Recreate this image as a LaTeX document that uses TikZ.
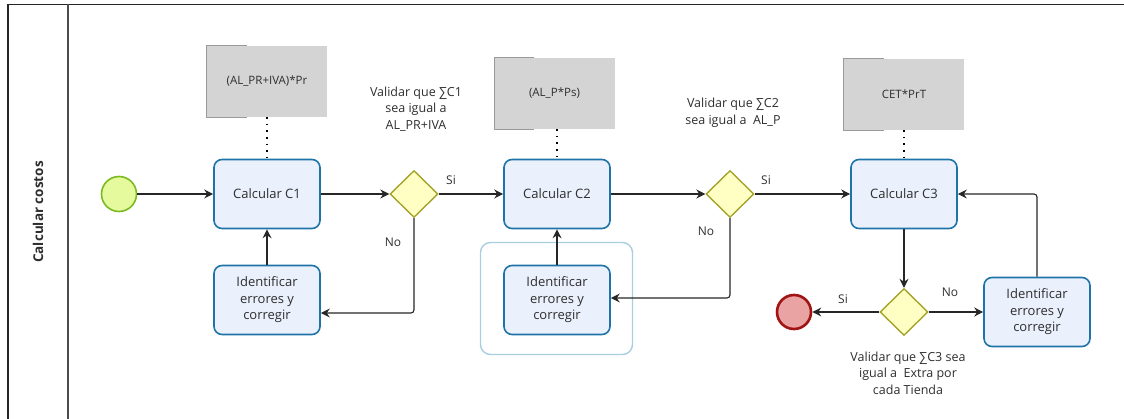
\documentclass[tikz,border=0pt]{standalone}
\usepackage{fontspec}
\setmainfont{Open Sans}
\usetikzlibrary{arrows.meta,shapes.geometric,calc}
\definecolor{taskfill}{HTML}{EAF0FC}
\definecolor{taskline}{HTML}{1E74A8}
\definecolor{gwfill}{HTML}{FFFFC4}
\definecolor{gwline}{HTML}{A3A32A}
\definecolor{startfill}{HTML}{E4FA9C}
\definecolor{startline}{HTML}{7DBA22}
\definecolor{endfill}{HTML}{EAA3A3}
\definecolor{endline}{HTML}{A01414}
\definecolor{notefill}{HTML}{D4D4D4}
\definecolor{noteline}{HTML}{9A9A9A}
\definecolor{grpline}{HTML}{A9CEDF}
\definecolor{txt}{HTML}{2E2E2E}
\tikzset{
  x=1pt,y=-1pt,
  task/.style={draw=taskline,line width=1.6pt,fill=taskfill,rounded corners=8pt,
    minimum width=106pt,minimum height=69pt,align=center,font=\fontsize{13}{16.5}\selectfont,text=txt},
  gw/.style={diamond,draw=gwline,line width=1.4pt,fill=gwfill,minimum width=48pt,minimum height=47pt,inner sep=0pt},
  startev/.style={circle,draw=startline,line width=1.6pt,fill=startfill,minimum size=35pt,inner sep=0pt},
  endev/.style={circle,draw=endline,line width=2.6pt,fill=endfill,minimum size=34pt,inner sep=0pt},
  note/.style={fill=notefill,minimum width=120pt,minimum height=71pt,font=\fontsize{11.5}{14}\selectfont,text=txt,inner sep=0pt},
  grp/.style={draw=grpline,line width=1.4pt,rounded corners=10pt,minimum width=152pt,minimum height=112pt},
  flow/.style={draw=black!85,line width=1.1pt,rounded corners=3pt,-{Stealth[length=9pt,width=9pt,inset=3pt]}},
  assoc/.style={draw=black,line width=1.6pt,dash pattern=on 1.6pt off 5pt},
  lbl/.style={font=\fontsize{12}{14}\selectfont,text=txt,inner sep=0pt},
  cond/.style={font=\fontsize{12.5}{16.5}\selectfont,text=txt,align=center,inner sep=0pt},
}
\newcommand{\notebracket}[1]{\draw[noteline,line width=1pt] ($(#1.north west)+(40,0)$) -- (#1.north west) -- (#1.south west) -- ++(40,0);}
\begin{document}
\begin{tikzpicture}
\useasboundingbox (0,0) rectangle (1124,419);
% pool frame
\draw[line width=1.4pt,black!85] (1124,4.5) -- (8,4.5) -- (8,419);
\draw[line width=1.4pt,black!70] (68,4.5) -- (68,419);
\node[rotate=90,font=\bfseries\fontsize{13.5}{16}\selectfont,text=txt] (lane) at (38,212) {Calcular costos};

% group
\node[grp] (group) at (556.5,298.5) {};

% events
\node[startev] (start) at (119,194) {};
\node[endev] (end) at (794,312) {};

% tasks
\node[task] (c1) at (267,194) {Calcular C1};
\node[task] (c2) at (557,194) {Calcular C2};
\node[task] (c3) at (904,194) {Calcular C3};
\node[task] (id1) at (267,300) {Identificar\\errores y\\corregir};
\node[task] (id2) at (557,300) {Identificar\\errores y\\corregir};
\node[task] (id3) at (1037,312) {Identificar\\errores y\\corregir};

% gateways
\node[gw] (g1) at (414,194) {};
\node[gw] (g2) at (730,194) {};
\node[gw] (g3) at (904,312) {};

% annotations
\node[note] (n1) at (267,81.5) {(AL\_PR+IVA)*Pr};
\node[note] (n2) at (554.5,93.5) {(AL\_P*Ps)};
\node[note] (n3) at (904,94.5) {CET*PrT};
\notebracket{n1}\notebracket{n2}\notebracket{n3}
\draw[assoc] (n1.south) -- (c1.north);
\draw[assoc] (n2.south -| c2.north) -- (c2.north);
\draw[assoc] (n3.south) -- (c3.north);

% condition texts
\node[cond] (v1) at (416,109) {Validar que ∑C1\\sea igual a\\AL\_PR+IVA};
\node[cond] (v2) at (733,113) {Validar que ∑C2\\sea igual a~~AL\_P};
\node[cond] (v3) at (908,373) {Validar que ∑C3 sea\\igual a~~Extra por\\cada Tienda};

% helper points
\coordinate (k1) at (414,313);
\coordinate (k2) at (730,298);
\coordinate (k3) at (1037,194);

% flows
\draw[flow] (start) -- (c1);
\draw[flow] (c1) -- (g1);
\draw[flow] (g1) -- (c2);
\draw[flow] (g1.south) -- (k1) -- (k1 -| id1.east);
\draw[flow] (id1) -- (c1);
\draw[flow] (c2) -- (g2);
\draw[flow] (g2) -- (c3);
\draw[flow] (g2.south) -- (k2) -- (k2 -| id2.east);
\draw[flow] (id2) -- (c2);
\draw[flow] (c3) -- (g3);
\draw[flow] (g3) -- (end);
\draw[flow] (g3) -- (id3);
\draw[flow] (id3.north) -- (k3) -- (c3.east);

% labels
\node[lbl] (si1) at (451,180) {Si};
\node[lbl] (no1) at (393,242) {No};
\node[lbl] (si2) at (766,180) {Si};
\node[lbl] (no2) at (706,231) {No};
\node[lbl] (si3) at (843,299) {Si};
\node[lbl] (no3) at (950,292) {No};
\end{tikzpicture}
\end{document}
